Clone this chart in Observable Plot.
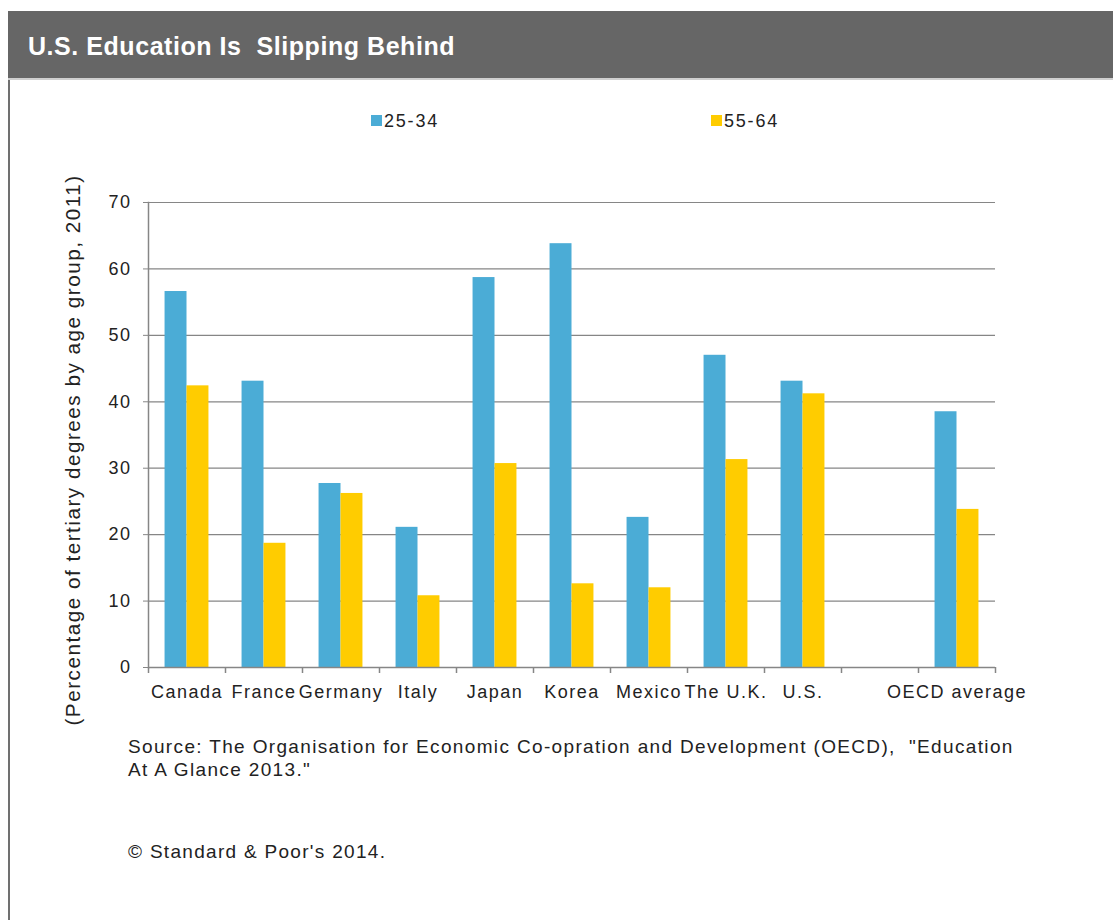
<!DOCTYPE html>
<html><head><meta charset="utf-8">
<script src="https://cdn.jsdelivr.net/npm/d3@7"></script>
<script src="https://cdn.jsdelivr.net/npm/@observablehq/plot@0.6"></script>
<style>
body{margin:0;background:#fff;font-family:"Liberation Sans",Arial,sans-serif;}
#wrap{position:relative;width:1113px;height:920px;overflow:hidden;background:#fff;}
#header{position:absolute;left:8px;top:11px;width:1105px;height:67px;background:#666;border-bottom:2px solid #cfcfcf;z-index:2;}
#header h1{margin:0;position:absolute;left:20px;top:21px;color:#fff;font-size:25px;font-weight:bold;letter-spacing:0.55px;white-space:pre;line-height:28px;}
#border{position:absolute;left:8px;top:80px;width:2px;height:840px;background:#707070;}
.leg{position:absolute;top:111px;font-size:18px;letter-spacing:1.8px;color:#222;line-height:20px;}
.leg span{display:inline-block;width:11px;height:11px;margin-right:2px;vertical-align:1px;}
#chart{position:absolute;left:0;top:150px;}
#source{position:absolute;left:128px;top:735px;font-size:19px;line-height:23px;color:#222;letter-spacing:1.35px;white-space:pre;}
#copy{position:absolute;left:128px;top:841px;font-size:19px;color:#222;letter-spacing:1.3px;}
</style></head>
<body><div id="wrap">
<div id="header"><h1>U.S. Education Is  Slipping Behind</h1></div>
<div id="border"></div>
<div id="leg1" class="leg" style="left:371px"><span style="background:#4BACD6"></span>25-34</div>
<div id="leg2" class="leg" style="left:711px"><span style="background:#FFCC00"></span>55-64</div>
<div id="chart"></div>
<div id="source">Source: The Organisation for Economic Co-opration and Development (OECD),  "Education
At A Glance 2013."</div>
<div id="copy">© Standard &amp; Poor's 2014.</div>
</div>
<script>
const slots = ["Canada","France","Germany","Italy","Japan","Korea","Mexico","The U.K.","U.S.","","OECD average"];
const countries = ["Canada","France","Germany","Italy","Japan","Korea","Mexico","The U.K.","U.S.","OECD average"];
const age2534 = [56.6, 43.1, 27.7, 21.1, 58.7, 63.8, 22.6, 47.0, 43.1, 38.5];
const age5564 = [42.4, 18.7, 26.2, 10.8, 30.7, 12.6, 12.0, 31.3, 41.2, 23.8];
const yTicks = [0,10,20,30,40,50,60,70];
const seriesNames = ["25-34","55-64"];
const colors = ["#4BACD6","#FFCC00"];
const yTitle = "(Percentage of tertiary degrees by age group, 2011)";

const d1 = countries.map((c,i)=>({c, v: age2534[i]}));
const d2 = countries.map((c,i)=>({c, v: age5564[i]}));

const W = 1113, ML = 148, MR = 118, MT = 52, MB = 45, H = 562;
const bw = (W - ML - MR) / slots.length;
const outer = bw * 0.215, barW = (bw - 2*outer) / 2;
const gray = "#868686";

const chart = Plot.plot({
  width: W, height: H,
  marginLeft: ML, marginRight: MR, marginTop: MT, marginBottom: MB,
  style: {fontFamily: "'Liberation Sans', Arial, sans-serif", fontSize: "18px", color: "#222", background: "transparent", letterSpacing: "1.5px", overflow: "visible"},
  x: {domain: slots, padding: 0, label: null},
  y: {domain: [0, 70], label: null},
  marks: [
    Plot.gridY(yTicks.filter(t => t > 0), {stroke: gray, strokeOpacity: 1, strokeWidth: 1.2}),
    Plot.barY(d1, {x: "c", y: "v", fill: colors[0], insetLeft: outer, insetRight: outer + barW}),
    Plot.barY(d2, {x: "c", y: "v", fill: colors[1], insetLeft: outer + barW, insetRight: outer}),
    Plot.ruleY([0], {stroke: gray, strokeWidth: 1.5}),
    Plot.frame({anchor: "left", stroke: gray, strokeWidth: 1.5}),
    Plot.axisY({ticks: yTicks, tickSize: 5, tickPadding: 12, stroke: gray, label: null}),
    Plot.axisX({tickSize: 0, tickPadding: 18, label: null}),
    Plot.ruleX(slots, {x: d => d, y1: 0, y2: 0, insetBottom: -6, dx: -bw/2, stroke: gray, strokeWidth: 1.5}),
    Plot.ruleX([slots[slots.length-1]], {x: d => d, y1: 0, y2: 0, insetBottom: -6, dx: bw/2, stroke: gray, strokeWidth: 1.5}),
    Plot.text([yTitle], {text: d => d, frameAnchor: "left", textAnchor: "middle", rotate: -90, dx: -75, dy: 15, fontSize: 20.7, fill: "#222"})
  ]
});
document.getElementById("chart").appendChild(chart);
</script>
</body></html>
